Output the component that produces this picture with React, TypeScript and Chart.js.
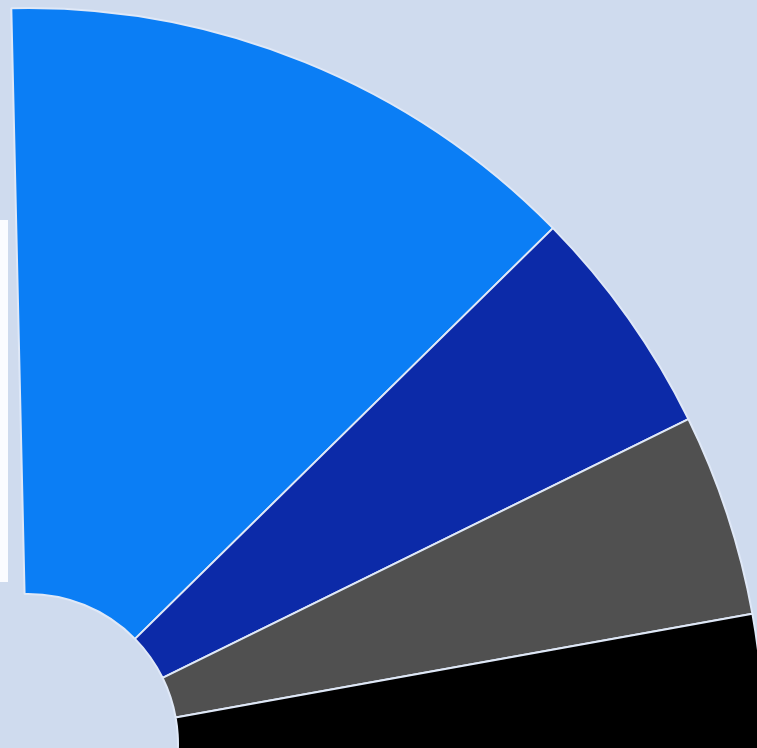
import React, { useEffect, useRef } from "react";
import { Chart, registerables } from "chart.js";

Chart.register(...registerables);

// Segment data (values in degrees of sweep)
const segmentLabels = ["Segment 1", "Segment 2", "Segment 3", "Segment 4"];
const segmentValues = [46.8, 18.3, 16.0, 13.0];
const segmentColors = ["#0b7ef5", "#0c2aa8", "#505050", "#000000"];
const startRotation = -1.3;

// Layout (page pixels)
const W = 757;
const H = 748;
const CENTER_X = 28;
const CENTER_Y = 744;
const OUTER_R = 736;
const INNER_R = 150;

function norm(a: number) {
  const t = Math.PI * 2;
  return ((a % t) + t) % t;
}

// Mirrors Chart.js getRatioAndOffset for partial doughnuts
function arcOffset(rotationDeg: number, circDeg: number, cutout: number) {
  const start = ((rotationDeg - 90) * Math.PI) / 180;
  const circ = (circDeg * Math.PI) / 180;
  const end = start + circ;
  const between = (a: number) => norm(a - start) <= circ + 1e-9;
  const sx = Math.cos(start), sy = Math.sin(start), ex = Math.cos(end), ey = Math.sin(end);
  const cmax = (ang: number, a: number, b: number) =>
    between(ang) ? 1 : Math.max(a, a * cutout, b, b * cutout);
  const cmin = (ang: number, a: number, b: number) =>
    between(ang) ? -1 : Math.min(a, a * cutout, b, b * cutout);
  const maxX = cmax(0, sx, ex);
  const maxY = cmax(Math.PI / 2, sy, ey);
  const minX = cmin(Math.PI, sx, ex);
  const minY = cmin(Math.PI * 1.5, sy, ey);
  return { ox: -(maxX + minX) / 2, oy: -(maxY + minY) / 2 };
}

export default function App() {
  const ref = useRef<HTMLCanvasElement | null>(null);

  useEffect(() => {
    if (!ref.current) return;
    const total = segmentValues.reduce((a, b) => a + b, 0);
    const cutRatio = INNER_R / OUTER_R;
    const { ox, oy } = arcOffset(startRotation, total, cutRatio);
    const areaCX = CENTER_X - ox * OUTER_R;
    const areaCY = CENTER_Y - oy * OUTER_R;
    const dx = 2 * areaCX - W;
    const dy = 2 * areaCY - H;
    const padding = {
      left: dx > 0 ? dx : 0,
      right: dx < 0 ? -dx : 0,
      top: dy > 0 ? dy : 0,
      bottom: dy < 0 ? -dy : 0,
    };

    const chart = new Chart(ref.current, {
      type: "doughnut",
      data: {
        labels: segmentLabels,
        datasets: [
          {
            data: segmentValues,
            backgroundColor: segmentColors,
            borderColor: "#dfe8f7",
            borderWidth: 2,
            hoverOffset: 0,
            clip: false as any,
          },
        ],
      },
      options: {
        responsive: false,
        animation: false,
        rotation: startRotation,
        circumference: total,
        radius: OUTER_R,
        cutout: cutRatio * 100 + "%",
        layout: { padding },
        plugins: {
          legend: { display: false },
          tooltip: { enabled: false },
        },
      } as any,
    });
    return () => chart.destroy();
  }, []);

  return (
    <div
      style={{
        position: "fixed",
        left: 0,
        top: 0,
        width: W,
        height: H,
        overflow: "hidden",
        background: "#cfdbee",
      }}
    >
      <div
        style={{
          position: "absolute",
          left: 0,
          top: 220,
          width: 8,
          height: 362,
          background: "#fbfcff",
        }}
      />
      <canvas
        ref={ref}
        width={W}
        height={H}
        style={{ position: "absolute", left: 0, top: 0, width: W, height: H, display: "block" }}
      />
    </div>
  );
}
